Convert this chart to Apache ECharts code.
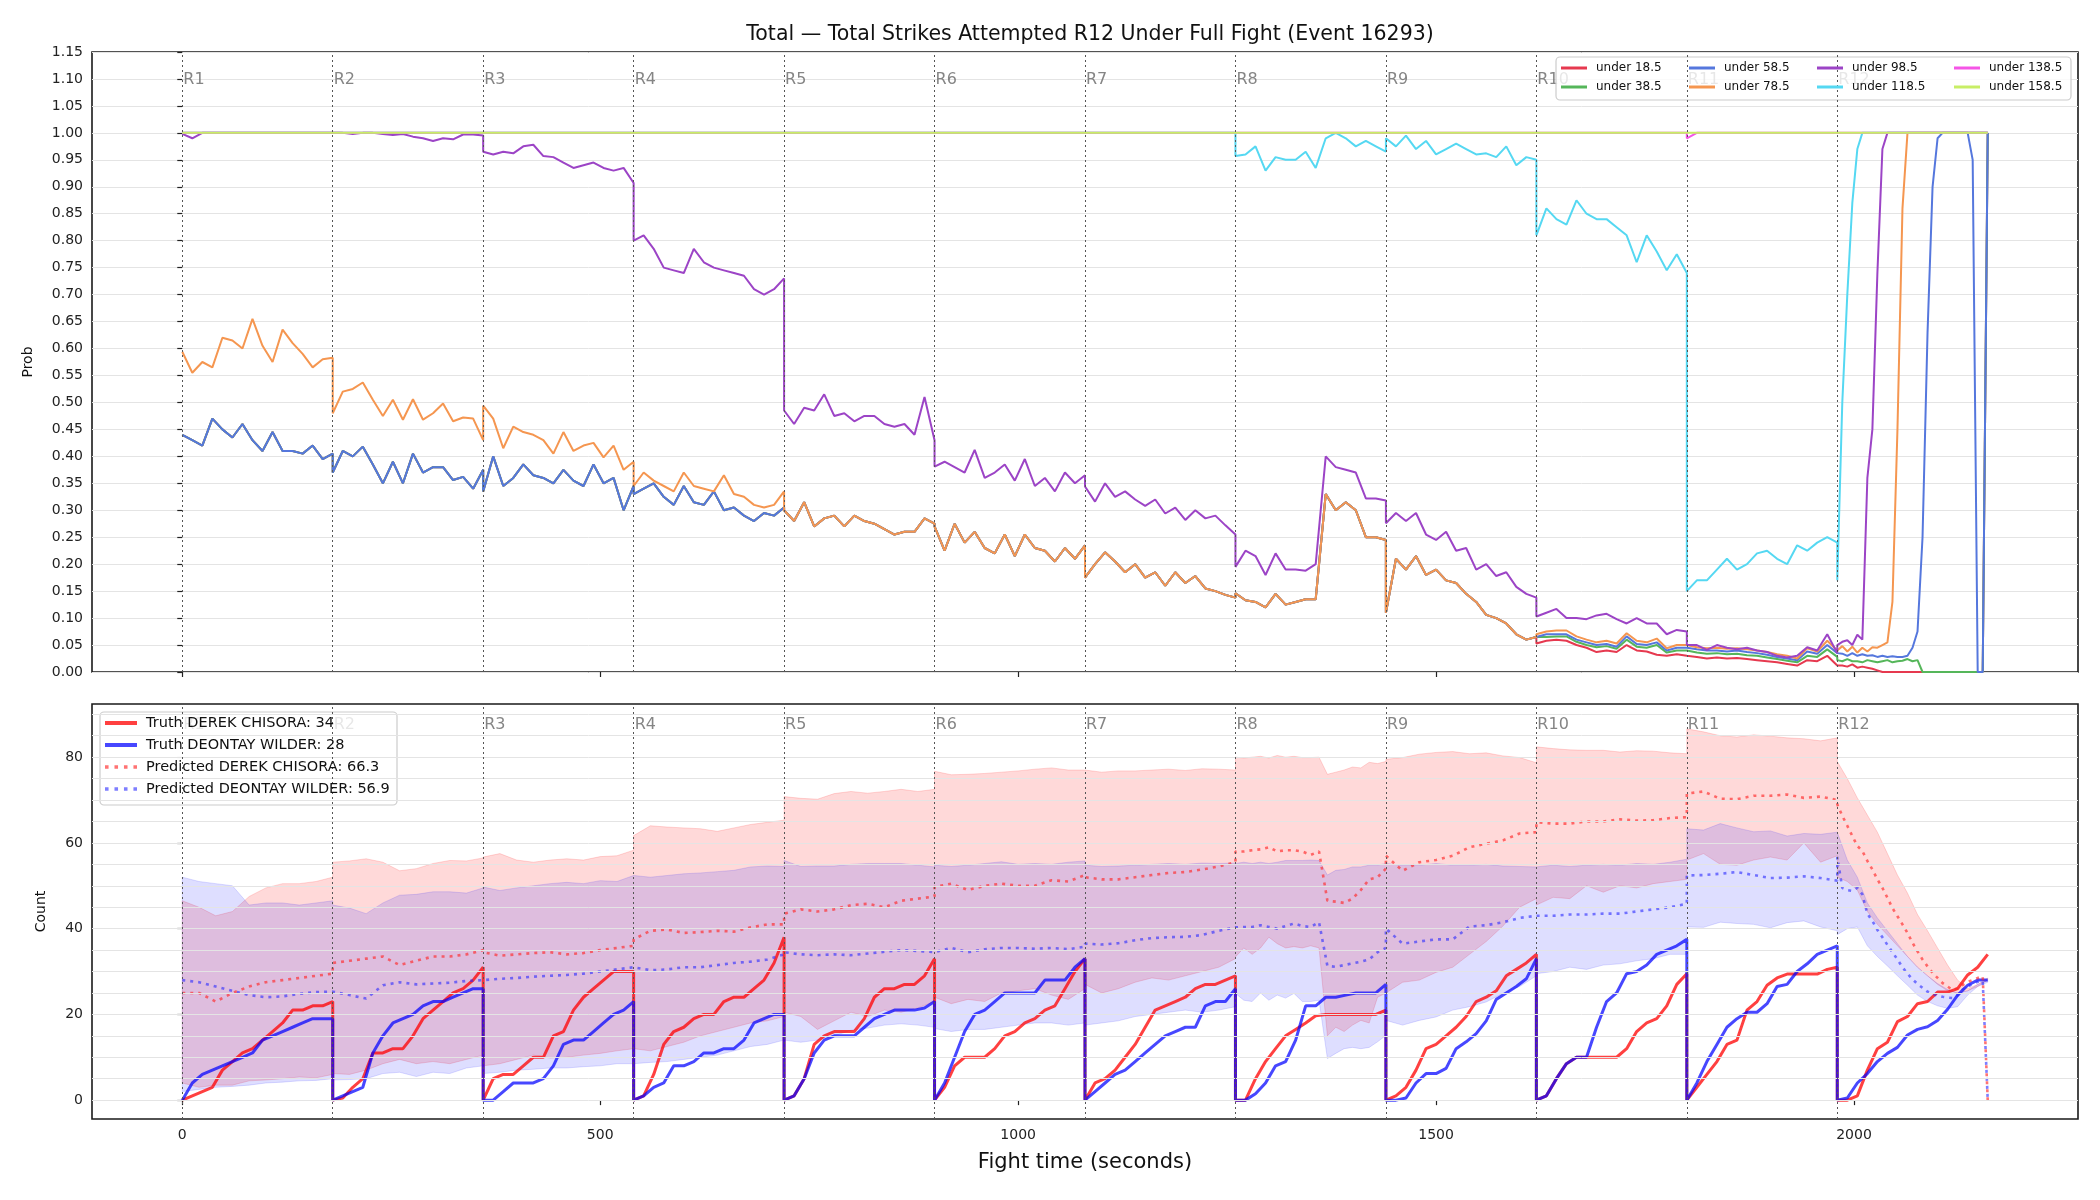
<!DOCTYPE html>
<html>
<head>
<meta charset="utf-8">
<title>Total Strikes Attempted R12 Under Full Fight</title>
<script src="https://cdn.jsdelivr.net/npm/echarts@6/dist/echarts.min.js"></script>
<style>
  html, body { margin: 0; background: #fff; }
  #chart { width: 2100px; height: 1200px; }
</style>
</head>
<body>
<div id="chart"></div>
<script>
/* ---- fight timeline ---- */
const ROUND_SECONDS = 180;
const roundNames = ['R1', 'R2', 'R3', 'R4', 'R5', 'R6', 'R7', 'R8', 'R9', 'R10', 'R11', 'R12'];
const roundStarts = [0, 180, 360, 540, 720, 900, 1080, 1260, 1440, 1620, 1800, 1980];
const timeTicks = [0, 500, 1000, 1500, 2000];
const countTicks = [0, 20, 40, 60, 80];
const countGrid = [0, 5, 10, 15, 20, 25, 30, 35, 40, 45, 50, 55, 60, 65, 70, 75, 80, 85, 90];

// Each series is a list of rounds; a round's values are evenly spaced over its 180 s.

// ---- TOP: probability lines ----
// under 18.5 / 38.5 / 58.5 overlap through R9 (read as one trace)
const lowLinesR1toR9 = [
  [0.44, 0.43, 0.42, 0.47, 0.45, 0.435, 0.46, 0.43, 0.41, 0.445, 0.41, 0.41, 0.405, 0.42, 0.395, 0.405],
  [0.37, 0.41, 0.40, 0.418, 0.385, 0.35, 0.39, 0.35, 0.405, 0.37, 0.38, 0.38, 0.356, 0.362, 0.34, 0.375],
  [0.335, 0.40, 0.345, 0.36, 0.385, 0.365, 0.36, 0.35, 0.375, 0.355, 0.345, 0.385, 0.35, 0.36, 0.30, 0.345],
  [0.33, 0.34, 0.35, 0.325, 0.31, 0.345, 0.315, 0.31, 0.335, 0.30, 0.305, 0.29, 0.28, 0.295, 0.29, 0.305],
  [0.30, 0.28, 0.315, 0.27, 0.285, 0.29, 0.27, 0.29, 0.28, 0.275, 0.265, 0.255, 0.26, 0.26, 0.285, 0.275],
  [0.27, 0.225, 0.275, 0.24, 0.26, 0.23, 0.22, 0.255, 0.215, 0.255, 0.23, 0.225, 0.205, 0.23, 0.21, 0.235],
  [0.175, 0.20, 0.222, 0.205, 0.185, 0.20, 0.175, 0.185, 0.16, 0.185, 0.165, 0.178, 0.155, 0.15, 0.143, 0.138],
  [0.146, 0.133, 0.13, 0.12, 0.145, 0.125, 0.13, 0.135, 0.135, 0.33, 0.30, 0.315, 0.30, 0.25, 0.25, 0.245],
  [0.11, 0.21, 0.19, 0.215, 0.18, 0.19, 0.17, 0.165, 0.145, 0.13, 0.106, 0.10, 0.09, 0.07, 0.06, 0.065]
];

const under18 = lowLinesR1toR9.concat([
  [0.053, 0.058, 0.06, 0.058, 0.05, 0.045, 0.037, 0.04, 0.037, 0.05, 0.04, 0.038, 0.032, 0.03, 0.033, 0.03],
  [0.03, 0.028, 0.025, 0.027, 0.025, 0.026, 0.024, 0.022, 0.02, 0.018, 0.015, 0.012, 0.022, 0.02, 0.03, 0.012],
  [0.012, 0.012, 0.01, 0.014, 0.008, 0.01, 0.008, 0.006, 0.003, 0, 0, 0, 0, 0, 0, 0, 0, 0, 0, 0, 0, 0, 0, 0, 0, 0, 0, 0, 0, 0, 1]
]);

const under38 = lowLinesR1toR9.concat([
  [0.062, 0.065, 0.066, 0.066, 0.056, 0.05, 0.046, 0.048, 0.043, 0.06, 0.047, 0.045, 0.05, 0.036, 0.04, 0.04],
  [0.038, 0.036, 0.034, 0.035, 0.033, 0.034, 0.031, 0.03, 0.027, 0.024, 0.021, 0.018, 0.03, 0.028, 0.042, 0.028],
  [0.022, 0.02, 0.024, 0.02, 0.02, 0.018, 0.022, 0.02, 0.018, 0.02, 0.022, 0.018, 0.02, 0.021, 0.024, 0.02, 0.022, 0, 0, 0, 0, 0, 0, 0, 0, 0, 0, 0, 0, 0, 1]
]);

const under58 = lowLinesR1toR9.concat([
  [0.066, 0.07, 0.07, 0.07, 0.06, 0.055, 0.05, 0.052, 0.047, 0.066, 0.052, 0.05, 0.055, 0.04, 0.045, 0.045],
  [0.043, 0.042, 0.04, 0.04, 0.038, 0.04, 0.037, 0.035, 0.032, 0.028, 0.025, 0.022, 0.038, 0.034, 0.05, 0.035],
  [0.032, 0.034, 0.03, 0.035, 0.03, 0.033, 0.03, 0.031, 0.028, 0.03, 0.028, 0.029, 0.028, 0.028, 0.03, 0.045, 0.075, 0.25, 0.63, 0.9, 0.99, 1, 1, 1, 1, 1, 1, 0.95, 0, 0, 1]
]);

const under78 = [
  [0.594, 0.555, 0.575, 0.565, 0.62, 0.615, 0.6, 0.655, 0.605, 0.575, 0.635, 0.61, 0.59, 0.565, 0.58, 0.583],
  [0.48, 0.52, 0.525, 0.537, 0.505, 0.475, 0.505, 0.468, 0.506, 0.468, 0.48, 0.498, 0.465, 0.472, 0.47, 0.43],
  [0.494, 0.47, 0.415, 0.455, 0.445, 0.44, 0.43, 0.405, 0.445, 0.41, 0.42, 0.425, 0.398, 0.42, 0.375, 0.39],
  [0.345, 0.37, 0.355, 0.345, 0.335, 0.37, 0.345, 0.34, 0.335, 0.365, 0.33, 0.325, 0.31, 0.305, 0.31, 0.335]
].concat(lowLinesR1toR9.slice(4), [
  [0.07, 0.075, 0.077, 0.077, 0.066, 0.06, 0.055, 0.058, 0.053, 0.072, 0.058, 0.055, 0.062, 0.044, 0.05, 0.05],
  [0.048, 0.046, 0.044, 0.045, 0.043, 0.044, 0.042, 0.04, 0.037, 0.033, 0.03, 0.025, 0.044, 0.038, 0.058, 0.04],
  [0.041, 0.048, 0.038, 0.047, 0.036, 0.045, 0.038, 0.046, 0.045, 0.05, 0.055, 0.13, 0.45, 0.86, 1, 1, 1, 1, 1, 1, 1, 1, 1, 1, 1, 1, 1, 1, 1, 1, 1]
]);

const under98 = [
  [0.998, 0.99, 1, 1, 1, 1, 1, 1, 1, 1, 1, 1, 1, 1, 1, 1],
  [1, 1, 0.998, 1, 1, 0.998, 0.996, 0.998, 0.993, 0.99, 0.985, 0.99, 0.988, 0.997, 0.997, 0.995],
  [0.965, 0.96, 0.965, 0.962, 0.975, 0.978, 0.957, 0.955, 0.945, 0.935, 0.94, 0.945, 0.935, 0.93, 0.935, 0.907],
  [0.80, 0.81, 0.785, 0.75, 0.745, 0.74, 0.785, 0.76, 0.75, 0.745, 0.74, 0.735, 0.71, 0.70, 0.71, 0.73],
  [0.485, 0.46, 0.49, 0.485, 0.515, 0.475, 0.48, 0.465, 0.475, 0.475, 0.46, 0.455, 0.46, 0.44, 0.51, 0.43],
  [0.381, 0.39, 0.38, 0.37, 0.412, 0.36, 0.37, 0.385, 0.355, 0.395, 0.345, 0.36, 0.335, 0.37, 0.35, 0.365],
  [0.344, 0.316, 0.35, 0.325, 0.335, 0.32, 0.308, 0.32, 0.294, 0.305, 0.282, 0.3, 0.285, 0.29, 0.272, 0.255],
  [0.195, 0.225, 0.215, 0.18, 0.22, 0.19, 0.19, 0.188, 0.2, 0.40, 0.38, 0.375, 0.37, 0.322, 0.322, 0.318],
  [0.276, 0.295, 0.28, 0.295, 0.255, 0.245, 0.26, 0.225, 0.23, 0.19, 0.2, 0.178, 0.185, 0.158, 0.145, 0.138],
  [0.103, 0.11, 0.117, 0.10, 0.10, 0.098, 0.105, 0.108, 0.098, 0.09, 0.10, 0.09, 0.09, 0.07, 0.078, 0.075],
  [0.05, 0.05, 0.041, 0.05, 0.045, 0.042, 0.045, 0.04, 0.037, 0.03, 0.027, 0.03, 0.046, 0.04, 0.07, 0.035],
  [0.05, 0.056, 0.059, 0.05, 0.069, 0.06, 0.36, 0.45, 0.74, 0.97, 1, 1, 1, 1, 1, 1, 1, 1, 1, 1, 1, 1, 1, 1, 1, 1, 1, 1, 1, 1, 1]
];

const under118 = [
  [1, 1], [1, 1], [1, 1], [1, 1], [1, 1], [1, 1], [1, 1],
  [0.957, 0.96, 0.975, 0.93, 0.955, 0.95, 0.95, 0.965, 0.935, 0.99, 1.0, 0.99, 0.975, 0.985, 0.975, 0.965],
  [0.99, 0.975, 0.995, 0.97, 0.985, 0.96, 0.97, 0.98, 0.97, 0.96, 0.962, 0.955, 0.975, 0.94, 0.955, 0.95],
  [0.81, 0.86, 0.84, 0.83, 0.875, 0.85, 0.84, 0.84, 0.825, 0.81, 0.76, 0.81, 0.78, 0.745, 0.775, 0.74],
  [0.15, 0.17, 0.17, 0.19, 0.21, 0.19, 0.2, 0.22, 0.225, 0.21, 0.2, 0.235, 0.225, 0.24, 0.25, 0.24],
  [0.17, 0.5, 0.7, 0.87, 0.97, 1, 1, 1, 1, 1, 1, 1, 1, 1, 1, 1, 1, 1, 1, 1, 1, 1, 1, 1, 1, 1, 1, 1, 1, 1, 1]
];

const under138 = [
  [1, 1], [1, 1], [1, 1], [1, 1], [1, 1], [1, 1], [1, 1], [1, 1], [1, 1], [1, 1],
  [0.99, 1, 1, 1, 1, 1, 1, 1, 1, 1, 1, 1, 1, 1, 1, 1],
  [1, 1]
];

const under158 = [
  [1, 1], [1, 1], [1, 1], [1, 1], [1, 1], [1, 1], [1, 1], [1, 1], [1, 1], [1, 1], [1, 1], [1, 1]
];

// ---- BOTTOM: per-round counts ----
const truthChisora = [
  [0, 1, 2, 3, 7, 9, 11, 12, 14, 16, 18, 21, 21, 22, 22, 23],
  [0, 0.5, 3, 5, 11, 11, 12, 12, 15, 19, 21, 23, 25, 26, 28, 31],
  [0, 5, 6, 6, 8, 10, 10, 15, 16, 21, 24, 26, 28, 30, 30, 30],
  [0, 1, 6, 13, 16, 17, 19, 20, 20, 23, 24, 24, 26, 28, 32, 38],
  [0, 1, 5, 13, 15, 16, 16, 16, 19, 24, 26, 26, 27, 27, 29, 33],
  [0, 3, 8, 10, 10, 10, 12, 15, 16, 18, 19, 21, 22, 26, 30, 33],
  [0, 4, 5, 7, 10, 13, 17, 21, 22, 23, 24, 26, 27, 27, 28, 29],
  [0, 0, 5, 9, 12, 15, 16.5, 18, 19.7, 20, 20, 20, 20, 20, 20, 21],
  [0, 1, 3, 7, 12, 13, 15, 17, 19.5, 23, 24, 25.5, 29, 30.5, 32, 34],
  [0, 1, 5, 8.5, 10, 10, 10, 10, 10, 12, 16, 18, 19, 22, 27, 29.5],
  [0, 3, 6, 9, 13, 14, 21, 23, 26.8, 28.5, 29.4, 29.4, 29.4, 29.4, 30.5, 31],
  [0, 0, 1, 7, 12, 13.5, 18.3, 19.5, 22.5, 23, 25.2, 25.2, 26, 29.2, 31, 34]
];

const truthWilder = [
  [0, 4, 6, 7, 8, 9, 10, 11, 14, 15, 16, 17, 18, 19, 19, 19],
  [0, 1, 2, 3, 11, 15, 18, 19, 20, 22, 23, 23, 24, 25, 26, 26],
  [0, 0, 2, 4, 4, 4, 5, 8, 13, 14, 14, 16, 18, 20, 21, 23],
  [0, 1, 3, 4, 8, 8, 9, 11, 11, 12, 12, 14, 18, 19, 20, 20],
  [0, 1, 5, 11, 14, 15, 15, 15, 17, 19, 20, 21, 21, 21, 21.5, 23],
  [0, 4, 10, 16, 20, 21, 23, 25, 25, 25, 25, 28, 28, 28, 31, 33],
  [0, 2, 4, 6, 7, 9, 11, 13, 15, 16, 17, 17, 22, 23, 23, 26],
  [0, 0, 1.5, 4, 8, 9, 14, 22, 22, 24, 24, 24.5, 25, 25, 25, 27],
  [0, 0, 0.5, 4, 6.2, 6.2, 7.4, 12, 13.6, 15.5, 18.5, 23.5, 25, 26.5, 28.3, 33],
  [0, 1, 5, 8.5, 10, 10, 17, 23, 25, 29.5, 30, 31.5, 34, 35, 36, 37.5],
  [0, 4, 9, 13, 17, 19, 20.5, 20.5, 22.5, 26.5, 27, 30, 31.8, 34, 35, 36],
  [0, 0.5, 4, 6.2, 9, 10.9, 12.3, 15.2, 16.5, 17.1, 18.6, 21.2, 24.5, 26.8, 28, 28]
];

const predChisora = [
  [25, 25, 23, 25, 26.5, 27.5, 28, 28.5, 29, 29.5],
  [32, 32.5, 33, 33.5, 31.5, 32.5, 33.5, 33.5, 34, 35],
  [34.5, 33.7, 34, 34.3, 34.5, 34, 34.3, 35, 35.5, 36],
  [37.5, 39.5, 39.8, 39, 39.2, 39.5, 39.3, 40.3, 41, 41],
  [43.5, 44.5, 44, 44.5, 45.5, 45.8, 45, 46.5, 47, 47.5],
  [49.7, 50.5, 49, 50, 50.5, 50, 50, 51.3, 51, 52.5],
  [52, 51.5, 51.5, 52, 52.5, 53, 53.2, 53.8, 54.5, 55.5],
  [58, 58, 58.3, 58.5, 59, 58, 58.3, 58.3, 58, 57.2, 58, 46.5, 46.3, 46, 47, 49, 51.5, 52, 54],
  [57, 53.5, 55.5, 56, 57, 59, 59.8, 60.6, 62.2, 62.5],
  [64.8, 64.5, 64.5, 65, 65, 65.5, 65.2, 65.3, 65.8, 66],
  [71.5, 72, 70.3, 70.2, 71, 71, 71.3, 70.5, 70.8, 70],
  [69, 66.3, 64, 61.6, 59.3, 58.1, 55.8, 53.8, 51.5, 49.5, 47.2, 44.8, 42.9, 41, 39, 36.7, 34.7, 32.8, 31.2, 29.7, 28.5, 27.3, 26.5, 25.7, 26.1, 26.9, 27.6, 28, 28.5, 28.9, 0]
];

const predWilder = [
  [28, 27.5, 26.5, 25.5, 24.5, 24, 24.2, 24.8, 25.2, 25.3],
  [25, 24.5, 23.7, 26.8, 27.5, 27, 27.2, 27.4, 27.8, 28],
  [27.8, 28.3, 28.5, 28.8, 29, 29.2, 29.5, 30, 30.5, 31],
  [31, 30.3, 30.5, 31, 31, 31.5, 32, 32.3, 32.8, 34],
  [34.5, 34, 33.8, 34, 33.8, 34.2, 34.6, 35, 34.8, 34.5],
  [34.6, 35.5, 34.5, 35.2, 35.5, 35.5, 35.3, 35.5, 35.2, 35.8],
  [36.5, 36.3, 36.6, 37.3, 37.8, 38, 38.1, 38.5, 39.5, 40.3],
  [40.4, 40.4, 40.4, 40.8, 40.4, 40, 40.6, 41.2, 40.6, 40.4, 41.5, 31.3, 31.1, 31.5, 31.9, 32.3, 32.8, 34.5, 35.5],
  [40, 36.5, 37, 37.5, 37.5, 40.5, 40.8, 41.5, 42.5, 43],
  [43, 43, 43.3, 43.3, 43.5, 43.5, 44, 44.5, 45, 45.8],
  [52.4, 52.5, 52.8, 53.2, 52.5, 51.8, 51.9, 52.2, 51.8, 51.2],
  [56.7, 49.5, 49, 48.8, 49.5, 48, 43.5, 41.8, 39.7, 38, 36.2, 34.5, 32.8, 31, 29.5, 28.2, 27.1, 26.2, 25.3, 24.8, 24.4, 24.1, 23.9, 23.8, 24.4, 25.8, 26.5, 27.1, 27.6, 27.8, 0]
];

const chisoraHi = [
  [46.5, 45, 43, 44, 47.5, 49.5, 50.5, 50.5, 51, 52],
  [55.5, 55.8, 56.3, 55.5, 53.5, 54, 55.2, 55.9, 55.8, 56.5],
  [56.7, 57.5, 56, 55.5, 56, 56.3, 56, 56.8, 57, 58.3],
  [61.7, 64, 63.7, 63.5, 63.3, 62.7, 63.5, 64.3, 64.8, 65.3],
  [70.8, 70.4, 70.2, 71.5, 72, 71.6, 72, 72.5, 72, 72.5],
  [76.7, 75.9, 76, 76.2, 76.5, 76.8, 77.2, 77.5, 77, 77],
  [77, 76.5, 76.8, 76.8, 77, 77.2, 76.9, 77.3, 77.2, 77],
  [80, 79.8, 80, 80.2, 79.8, 80.4, 80, 80.2, 79.9, 79.9, 80, 76, 76.5, 77, 77.7, 77.5, 78.8, 78.5, 79],
  [79.5, 79.9, 80.7, 81.1, 81.3, 80.8, 81, 80.3, 79.9, 78.7],
  [82.4, 82, 81.7, 81.6, 81.6, 81.2, 81.5, 81.4, 81, 80.8],
  [86.6, 85.9, 85, 84.7, 85.2, 84.9, 84.5, 84.3, 83.8, 84.5],
  [79, 75, 70.5, 66.5, 62.5, 57.5, 52.5, 48.3, 43.3, 39.5, 35.5, 31.5, 28, 26, 27, 28.5]
];

const chisoraLo = [
  [4, 3, 3.5, 3.5, 4.5, 4.7, 5, 5.4, 5.2, 6],
  [6.2, 6, 7, 8.5, 9.5, 8.5, 9, 8.5, 9.5, 10.5],
  [8, 8.5, 9.5, 10.5, 9.8, 10, 10.5, 10.9, 11.5, 12],
  [12, 11.5, 12.5, 13.5, 15, 16, 17, 18, 18.5, 19.5],
  [20.5, 19.5, 16.5, 18.5, 20.5, 19.5, 21, 20.5, 21.5, 23],
  [24, 22.5, 23.5, 23, 25, 25.5, 26, 24.5, 23.5, 26],
  [27, 25, 26, 27.5, 28.5, 28, 29, 30, 31, 33],
  [33.4, 35.5, 34, 35.5, 38, 36.5, 35.5, 35.8, 35.5, 36, 35.5, 15, 17, 16, 17.5, 18.6, 18, 24, 25],
  [25, 27.5, 28, 29.8, 31, 34, 37, 40.6, 45, 47],
  [45.5, 47.3, 47, 50, 48.5, 50, 49.5, 50.5, 51, 51.5],
  [56, 57.5, 55, 54.8, 56, 56.7, 56, 60, 55.5, 57],
  [52, 51, 49, 44, 41, 38.5, 36, 33.5, 31, 29, 27, 25.5, 25, 25.5, 26.5, 28]
];

const wilderHi = [
  [52, 51, 50.5, 50, 45.5, 46, 46, 45.5, 46, 46.5],
  [45.5, 44.8, 43.5, 46, 47.8, 48, 48.6, 48.6, 48.3, 49.5],
  [49.7, 48.9, 49.5, 50, 50.5, 50.8, 50.5, 51.2, 51, 52.4],
  [52.4, 52, 52.4, 52.8, 53, 53.3, 53.6, 54.4, 54.6, 54.5],
  [55.9, 54.5, 54.6, 54.6, 55, 55.2, 55.2, 55.2, 54.8, 54.4],
  [54.8, 54.5, 54.8, 55.2, 55.6, 55, 55.2, 55, 55.5, 55.8],
  [54.8, 54.5, 54.6, 54.8, 55, 55.2, 55, 55.3, 55.2, 55.3],
  [55.2, 55.5, 55.2, 55.5, 55.2, 55.5, 55.9, 55.9, 55.9, 56, 55.9, 52.5, 53.6, 53.8, 54.4, 54.4, 54.8, 54.8, 55.2],
  [55.2, 54.8, 54.8, 55.2, 54.8, 54.8, 55, 54.6, 54.5, 54.4],
  [54.4, 54.8, 54.5, 54.8, 55, 54.8, 55.2, 55, 55.5, 56.2],
  [63.3, 63, 64.5, 63.5, 62.6, 62.8, 61.6, 62.2, 62, 62.5],
  [62.5, 56, 52, 46, 42.5, 39.5, 36.5, 33.5, 31, 29, 27.2, 25.8, 25, 25.5, 27, 28]
];

const wilderLo = [
  [2, 2.5, 3, 3.2, 3.5, 4, 4.2, 4.5, 4.6, 5],
  [4.7, 4.8, 5, 6.2, 6.5, 5.5, 6.5, 6.2, 7.5, 8],
  [6.2, 6.5, 7, 7.2, 7.5, 7.5, 7.8, 8, 8.5, 8.5],
  [8.5, 8.8, 9, 9.5, 10, 10.5, 11.5, 12.5, 13, 14],
  [14, 13.5, 14, 15, 16.3, 16.8, 17.5, 17.8, 17.5, 17],
  [16.7, 16, 16.5, 16.5, 17, 17.5, 18, 18, 17.5, 18],
  [17.5, 18, 18.5, 19.5, 20, 20.5, 21, 20.5, 21, 21.8],
  [24.9, 23.3, 23, 25, 23.3, 24.5, 23.8, 24.9, 23, 23, 23.3, 9.7, 10.9, 12, 12.3, 12, 12.3, 13.6, 15.1],
  [18.6, 17.5, 18.6, 19.4, 21, 21.8, 22.9, 24.9, 26.5, 29],
  [29.5, 30, 31, 30.5, 31.5, 31.8, 32.5, 33, 34, 34],
  [40.4, 40.3, 41.5, 41.2, 41, 40.2, 41.4, 41.8, 40.4, 39.5],
  [38.6, 40, 40.4, 36, 33.5, 31.3, 29, 26.8, 24.5, 23, 22, 21.4, 21.8, 24.5, 26.5, 27.5]
];

// ---- HELPERS ----
function roundPoints(vals, r) {
  const step = ROUND_SECONDS / (vals.length - 1);
  return vals.map((v, k) => [roundStarts[r] + k * step, v]);
}
function toPoints(rounds) {
  return rounds.flatMap((vals, r) => roundPoints(vals, r));
}

function lineSeries(name, rounds, color, width, axis, dash) {
  return {
    name, type: 'line', xAxisIndex: axis, yAxisIndex: axis,
    data: toPoints(rounds), symbol: 'none', showSymbol: false, clip: true,
    lineStyle: { color, width, type: dash || 'solid' },
    itemStyle: { color },
    emphasis: { disabled: true }, silent: true
  };
}

function bandSeries(name, loRounds, hiRounds, fill) {
  const top = toPoints(hiRounds);
  const bottom = toPoints(loRounds).reverse();
  return {
    name, type: 'custom', xAxisIndex: 1, yAxisIndex: 1, clip: true, silent: true,
    data: [[0, 0]],
    renderItem: (params, api) => ({
      type: 'polygon',
      shape: { points: top.concat(bottom).map(p => api.coord(p)) },
      style: { fill, stroke: fill, lineWidth: 1 }
    })
  };
}

function roundMarkSeries(axis, labelY) {
  return {
    type: 'scatter', xAxisIndex: axis, yAxisIndex: axis, silent: true,
    symbolSize: 0, z: 2,
    data: roundStarts.map((t, i) => [t, labelY, roundNames[i]]),
    label: {
      show: true, position: 'right', distance: 1, color: '#666', fontSize: 16,
      formatter: p => p.data[2]
    },
    markLine: {
      silent: true, symbol: 'none', label: { show: false },
      lineStyle: { color: '#555', type: [2, 3], width: 1 },
      data: roundStarts.map(t => ({ xAxis: t }))
    }
  };
}

// ---- CHART ----
const probLines = [
  ['under 18.5', under18, '#e6394f'],
  ['under 38.5', under38, '#55b65a'],
  ['under 58.5', under58, '#5577dd'],
  ['under 78.5', under78, '#f59650'],
  ['under 98.5', under98, '#9c44c6'],
  ['under 118.5', under118, '#55d8f2'],
  ['under 138.5', under138, '#f555e6'],
  ['under 158.5', under158, '#c8ee66']
];

const legendCols = [
  ['under 18.5', 'under 38.5'], ['under 58.5', 'under 78.5'],
  ['under 98.5', 'under 118.5'], ['under 138.5', 'under 158.5']
];
const legendColLeft = [1561, 1689, 1817, 1954];
const dotsIcon = 'path://M0,0h3v3h-3zM8,0h3v3h-3zM16,0h3v3h-3zM24,0h3v3h-3z';

const chart = echarts.init(document.getElementById('chart'), null, { renderer: 'canvas' });

const timeAxis = (gridIndex, showLabels) => ({
  type: 'value', gridIndex, min: -108, max: 2268,
  axisLine: { show: false }, splitLine: { show: false },
  axisTick: { show: true, customValues: timeTicks, length: 5, lineStyle: { color: '#222', width: 1.2 } },
  axisLabel: { show: showLabels, customValues: timeTicks, fontSize: 14, color: '#222', margin: 9, formatter: v => String(v) },
  name: showLabels ? 'Fight time (seconds)' : '',
  nameLocation: 'middle', nameGap: 33,
  nameTextStyle: { fontSize: 21, color: '#111' }
});

chart.setOption({
  animation: false,
  backgroundColor: '#fff',
  textStyle: { fontFamily: 'DejaVu Sans' },
  title: {
    text: 'Total \u2014 Total Strikes Attempted R12 Under Full Fight (Event 16293)',
    left: 1085, top: 19, textAlign: 'center',
    textStyle: { fontSize: 20.5, fontWeight: 'normal', color: '#111', fontFamily: 'DejaVu Sans' }
  },
  grid: [
    { left: 92, top: 52, width: 1986, height: 620, show: true, borderColor: '#1a1a1a', borderWidth: 1.6 },
    { left: 92, top: 704, width: 1986, height: 415, show: true, borderColor: '#1a1a1a', borderWidth: 1.6 }
  ],
  xAxis: [timeAxis(0, false), timeAxis(1, true)],
  yAxis: [
    {
      type: 'value', gridIndex: 0, min: 0, max: 1.15, interval: 0.05,
      axisLine: { show: false },
      axisTick: { show: true, length: 5, lineStyle: { color: '#222', width: 1.2 } },
      axisLabel: { fontSize: 14, color: '#222', margin: 9, formatter: v => v.toFixed(2) },
      splitLine: { lineStyle: { color: '#e4e4e4', width: 1 } },
      name: 'Prob', nameLocation: 'middle', nameGap: 57,
      nameTextStyle: { fontSize: 14, color: '#111' }
    },
    {
      type: 'value', gridIndex: 1, min: -4.4, max: 92.4,
      axisLine: { show: false }, splitLine: { show: false },
      axisTick: { show: true, customValues: countTicks, length: 5, lineStyle: { color: '#222', width: 1.2 } },
      axisLabel: { customValues: countTicks, fontSize: 14, color: '#222', margin: 9 },
      name: 'Count', nameLocation: 'middle', nameGap: 44,
      nameTextStyle: { fontSize: 14, color: '#111' }
    }
  ],
  legend: legendCols.map((names, i) => ({
    data: names.map(name => ({ name, icon: 'rect' })),
    orient: 'vertical', left: legendColLeft[i], top: 61,
    itemWidth: 26, itemHeight: 3, itemGap: 5, padding: 0, z: 6,
    selectedMode: false, textStyle: { fontSize: 12, color: '#111', lineHeight: 14, padding: [0, 0, 0, 4] }
  })).concat([{
    data: [
      { name: 'Truth DEREK CHISORA: 34', icon: 'rect' },
      { name: 'Truth DEONTAY WILDER: 28', icon: 'rect' },
      { name: 'Predicted DEREK CHISORA: 66.3', icon: dotsIcon },
      { name: 'Predicted DEONTAY WILDER: 56.9', icon: dotsIcon }
    ],
    orient: 'vertical', left: 105, top: 715, itemWidth: 32, itemHeight: 4, itemGap: 6,
    padding: 0, z: 6, selectedMode: false,
    textStyle: { fontSize: 14.5, color: '#111', lineHeight: 16, padding: [0, 0, 0, 4] }
  }]),
  graphic: [
    { type: 'rect', z: 5, shape: { x: 1556, y: 57, width: 515, height: 43, r: 4 },
      style: { fill: 'rgba(255,255,255,0.8)', stroke: '#cccccc', lineWidth: 1.2 } },
    { type: 'rect', z: 5, shape: { x: 100, y: 712, width: 297, height: 93, r: 4 },
      style: { fill: 'rgba(255,255,255,0.8)', stroke: '#cccccc', lineWidth: 1.2 } }
  ],
  series: [
    roundMarkSeries(0, 1.098),
    ...probLines.map(([name, rounds, color]) => lineSeries(name, rounds, color, 2, 0)),
    {
      type: 'line', xAxisIndex: 1, yAxisIndex: 1, data: [], z: 1, silent: true,
      markLine: {
        silent: true, symbol: 'none', label: { show: false },
        lineStyle: { color: '#e4e4e4', type: 'solid', width: 1 },
        data: countGrid.map(v => ({ yAxis: v }))
      }
    },
    bandSeries('band chisora', chisoraLo, chisoraHi, 'rgba(255,0,0,0.15)'),
    bandSeries('band wilder', wilderLo, wilderHi, 'rgba(0,0,255,0.13)'),
    roundMarkSeries(1, 87.6),
    lineSeries('Truth DEREK CHISORA: 34', truthChisora, 'rgba(255,0,0,0.75)', 3, 1),
    lineSeries('Truth DEONTAY WILDER: 28', truthWilder, 'rgba(0,0,255,0.72)', 3, 1),
    lineSeries('Predicted DEREK CHISORA: 66.3', predChisora, 'rgba(255,40,40,0.65)', 2.6, 1, [3, 5]),
    lineSeries('Predicted DEONTAY WILDER: 56.9', predWilder, 'rgba(40,40,255,0.6)', 2.6, 1, [3, 5])
  ]
});
</script>
</body>
</html>
